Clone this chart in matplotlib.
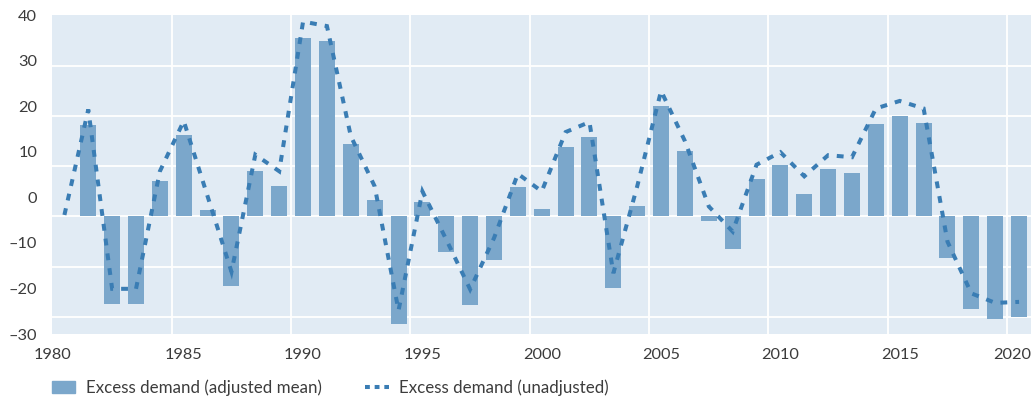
import numpy as np
import matplotlib
matplotlib.use("Agg")
import matplotlib.pyplot as plt
from matplotlib.patches import Patch
from matplotlib.lines import Line2D

plt.rcParams['font.family'] = ['Lato', 'DejaVu Sans']

# data
bar_years = np.arange(1981, 2021)
adjusted = [18.3, -17.5, -17.5, 7.0, 16.3, 1.3, -13.8, 9.0, 6.0, 35.6,
            34.9, 14.4, 3.3, -21.5, 2.8, -7.1, -17.7, -8.6, 5.8, 1.5,
            13.9, 15.9, -14.3, 2.1, 21.9, 13.0, -0.8, -6.5, 7.4, 10.3,
            4.4, 9.5, 8.6, 18.5, 20.1, 18.7, -8.3, -18.5, -20.5, -20.0]
line_years = np.arange(1980, 2021)
unadjusted = [0.3, 21.3, -14.4, -14.4, 9.0, 19.0, 4.0, -11.0, 12.3, 9.0,
              38.8, 37.9, 16.0, 6.0, -18.7, 5.0, -4.6, -14.5, -4.3, 8.5,
              5.0, 16.8, 18.8, -11.3, 6.0, 25.0, 15.0, 2.0, -3.0, 10.3,
              12.8, 8.0, 12.2, 11.8, 21.5, 23.0, 21.5, -5.0, -15.3, -17.2, -17.0]
ytick_labels = ['40', '30', '20', '10', '0', '\u201310', '\u201320', '\u201330']
xtick_labels = ['1980', '1985', '1990', '1995', '2000', '2005', '2010', '2015', '2020']

bar_color = '#7ba7cb'
line_color = '#3a7db4'
text_color = '#3c3c3c'

fig = plt.figure(figsize=(10.31, 4.01), dpi=100)
ax = fig.add_axes([0.0509, 0.167, 0.9491, 0.7955])
ax.set_facecolor('#e1ebf4')

ax.bar(bar_years + 0.5, adjusted, width=0.67, color=bar_color, zorder=2)
ax.plot(line_years + 0.5, unadjusted, color=line_color, lw=2.9,
        linestyle=(0, (1.7, 2.0)), dash_capstyle='butt',
        dash_joinstyle='miter', zorder=3)

ymin, ymax = -23.4, 40.1
ax.set_xlim(1980, 2021)
ax.set_ylim(ymin, ymax)

# gridlines on minor ticks, labels on major ticks
ax.set_yticks(np.arange(-20, 40, 10), minor=True)
ax.set_xticks(np.arange(1985, 2021, 5), minor=True)
ax.grid(which='minor', color='white', lw=1.3, zorder=1)
ax.set_axisbelow(True)

ax.set_yticks(np.linspace(ymax, ymin, 8))
ax.set_yticklabels(ytick_labels)
xpos = [1980] + [y + 0.5 for y in range(1985, 2020, 5)] + [2020.23]
ax.set_xticks(xpos)
ax.set_xticklabels(xtick_labels)

ax.tick_params(which='both', length=0, colors=text_color, labelsize=11.8)
ax.tick_params(axis='y', pad=11)
ax.tick_params(axis='x', pad=10)
for s in ax.spines.values():
    s.set_visible(False)

handles = [Patch(color=bar_color),
           Line2D([], [], color=line_color, lw=2.9, linestyle=(0, (1.2, 1.2)))]
labels = ['Excess demand (adjusted mean)', 'Excess demand (unadjusted)']
leg = fig.legend(handles, labels, loc='center left', bbox_to_anchor=(0.0504, 0.034),
                 ncol=2, frameon=False, fontsize=12.2, handlelength=1.38,
                 handleheight=0.75, handletextpad=0.6, columnspacing=2.6,
                 borderpad=0, borderaxespad=0)
for t in leg.get_texts():
    t.set_color(text_color)

fig.savefig('out.png', dpi=100)
